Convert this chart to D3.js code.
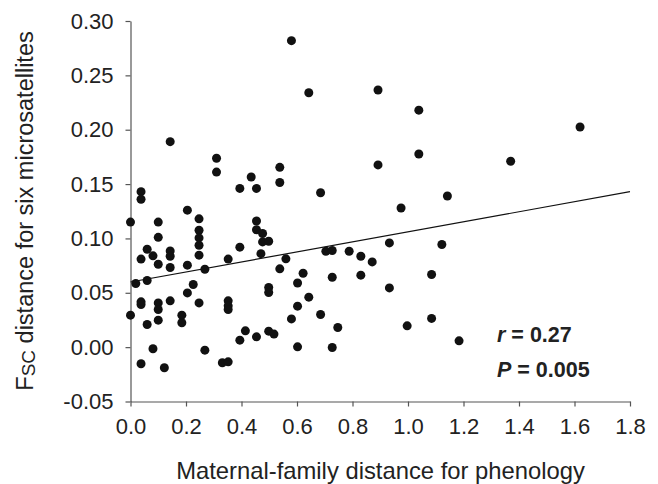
<!DOCTYPE html>
<html>
<head>
<meta charset="utf-8">
<script src="https://cdn.jsdelivr.net/npm/d3@7"></script>
<style>
  body { margin: 0; background: #fff; }
  svg { font-family: "Liberation Sans", Arial, sans-serif; }
</style>
</head>
<body>
<div id="chart"></div>
<script>
// Maternal-family distance for phenology (x) vs FSC distance (y)
const phenologyDist = [
  0, 0.143, 0.038, 0.038, 0.1, 0.1, 0.06, 0.038, 0.081, 0.143,
  0.143, 0.205, 0.247, 0.247, 0.247, 0.247, 0.247, 0.31, 0.31, 0.352,
  0.394, 0.394, 0.435, 0.454, 0.454, 0.454, 0.1, 0.143, 0.205, 0.268,
  0.47, 0.019, 0.06, 0, 0.038, 0.038, 0.06, 0.1, 0.1, 0.1,
  0.143, 0.185, 0.185, 0.205, 0.226, 0.247, 0.081, 0.038, 0.122, 0.268,
  0.331, 0.352, 0.352, 0.352, 0.352, 0.394, 0.414, 0.454, 0.58, 0.6425,
  0.892, 1.039, 1.039, 0.892, 0.538, 0.538, 0.685, 0.975, 0.476, 0.476,
  0.498, 0.56, 0.538, 0.622, 0.602, 0.704, 0.727, 0.788, 0.83, 0.871,
  0.933, 0.727, 0.83, 0.933, 0.498, 0.498, 0.6425, 0.602, 0.58, 0.685,
  0.747, 0.997, 0.498, 0.517, 0.602, 0.727, 1.62, 1.37, 1.142, 1.122,
  1.085, 1.085, 1.184
];
const fscDist = [
  0.115, 0.189, 0.143, 0.136, 0.115, 0.101, 0.090, 0.081, 0.084, 0.0885,
  0.0836, 0.126, 0.118, 0.1075, 0.1005, 0.0937, 0.0846, 0.1737, 0.161, 0.081,
  0.146, 0.092, 0.1565, 0.146, 0.116, 0.108, 0.0763, 0.0733, 0.0754, 0.0717,
  0.086, 0.0585, 0.0613, 0.0294, 0.0417, 0.0392, 0.0208, 0.0407, 0.0346, 0.0248,
  0.0426, 0.0294, 0.0224, 0.0499, 0.0576, 0.0407, -0.0015, -0.0153, -0.019, -0.0028,
  -0.0144, -0.0135, 0.0426, 0.038, 0.0346, 0.0064, 0.015, 0.0095, 0.2819, 0.234,
  0.2365, 0.218, 0.1777, 0.1676, 0.1654, 0.1514, 0.142, 0.128, 0.1045, 0.0968,
  0.0974, 0.0812, 0.072, 0.068, 0.059, 0.0882, 0.0889, 0.0882, 0.0836, 0.0784,
  0.0959, 0.0643, 0.0662, 0.0545, 0.0549, 0.0503, 0.046, 0.0377, 0.026, 0.030,
  0.0181, 0.0196, 0.0147, 0.012, 0.0003, -0.0003, 0.2025, 0.171, 0.139, 0.0944,
  0.0668, 0.0264, 0.0058
];

// regression line end points
const trendX = [0, 1.8];
const trendY = [0.0599, 0.143];

const xTicks = [0, 0.2, 0.4, 0.6, 0.8, 1.0, 1.2, 1.4, 1.6, 1.8];
const yTicks = [-0.05, 0, 0.05, 0.10, 0.15, 0.20, 0.25, 0.30];

const statLines = [
  { sym: "r", text: " = 0.27" },
  { sym: "P", text: " = 0.005" }
];

const width = 658, height = 484;
const axisColor = "#555";

const svg = d3.select("#chart").append("svg")
  .attr("width", width)
  .attr("height", height);

const x = d3.scaleLinear().domain([0, 1.8]).range([130.5, 630]);
const y = d3.scaleLinear().domain([-0.05, 0.30]).range([401.5, 21]);

// axes
const xAxis = svg.append("g")
  .attr("transform", `translate(0,${y(-0.05)})`)
  .call(d3.axisBottom(x).tickValues(xTicks).tickFormat(d => d.toFixed(1))
    .tickSize(5).tickSizeOuter(0).tickPadding(12));

const yAxis = svg.append("g")
  .attr("transform", `translate(${x(0)},0)`)
  .call(d3.axisLeft(y).tickValues(yTicks).tickFormat(d => d.toFixed(2))
    .tickSize(5).tickSizeOuter(0).tickPadding(12));

[xAxis, yAxis].forEach(g => {
  g.select(".domain").attr("stroke", axisColor).attr("stroke-width", 1.2);
  g.selectAll(".tick line").attr("stroke", axisColor).attr("stroke-width", 1.2);
  g.selectAll(".tick text")
    .attr("fill", "#222")
    .style("font-size", "22px")
    .style("font-family", "'Liberation Sans', Arial, sans-serif");
});

// trend line
svg.append("line")
  .attr("x1", x(trendX[0])).attr("y1", y(trendY[0]))
  .attr("x2", x(trendX[1])).attr("y2", y(trendY[1]))
  .attr("stroke", "#111")
  .attr("stroke-width", 1.2);

// points
svg.append("g").selectAll("circle")
  .data(phenologyDist.map((d, i) => [d, fscDist[i]]))
  .enter().append("circle")
  .attr("cx", d => x(d[0]))
  .attr("cy", d => y(d[1]))
  .attr("r", 4.5)
  .attr("fill", "#111");

// axis titles
svg.append("text")
  .attr("x", 380.5)
  .attr("y", 478.5)
  .attr("text-anchor", "middle")
  .attr("fill", "#222")
  .style("font-size", "23.8px")
  .text("Maternal-family distance for phenology");

const yTitle = svg.append("text")
  .attr("transform", "translate(33,211) rotate(-90)")
  .attr("text-anchor", "middle")
  .attr("fill", "#222")
  .style("font-size", "23.5px");
yTitle.append("tspan").text("F");
yTitle.append("tspan").attr("dy", 2).style("font-size", "19px").text("SC");
yTitle.append("tspan").attr("dy", -2).text(" distance for six microsatellites");

// r and P annotation
statLines.forEach((s, i) => {
  const t = svg.append("text")
    .attr("x", 497)
    .attr("y", 342 + i * 35)
    .attr("fill", "#222")
    .style("font-size", "21.5px")
    .style("font-weight", "bold");
  t.append("tspan").style("font-style", "italic").text(s.sym);
  t.append("tspan").text(s.text);
});
</script>
</body>
</html>
